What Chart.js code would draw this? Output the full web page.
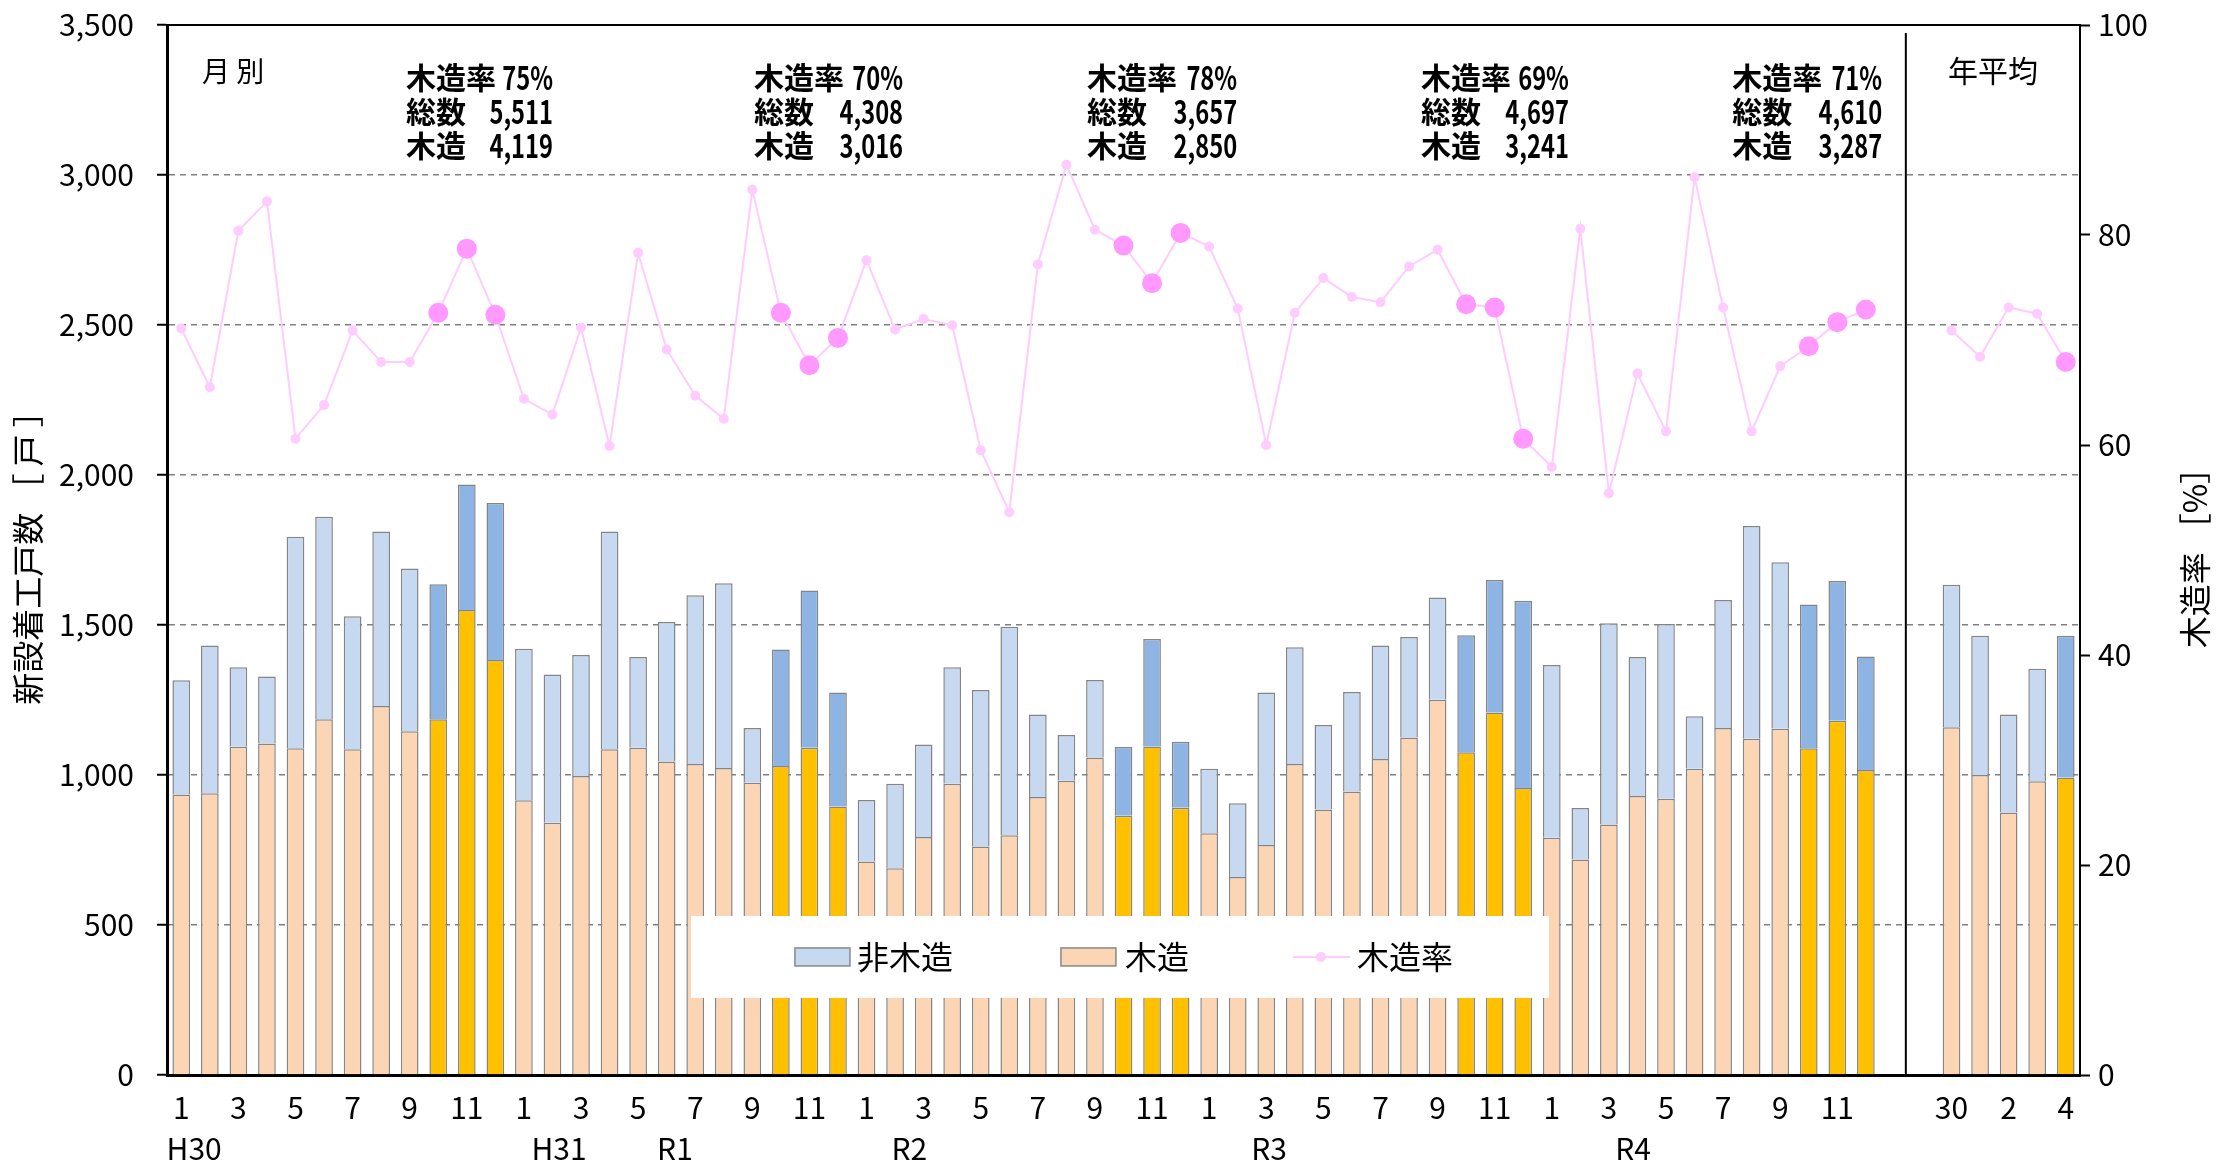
<!DOCTYPE html>
<html lang="ja">
<head>
<meta charset="utf-8">
<title>新設着工戸数</title>
<script src="https://cdn.jsdelivr.net/npm/chart.js@4.4.1/dist/chart.umd.min.js"></script>
<style>
  html, body { margin: 0; padding: 0; background: #fff; }
  #wrap { width: 2219px; height: 1163px; }
</style>
</head>
<body>
<div id="wrap"><canvas id="chartHousing" width="2219" height="1163"></canvas></div>
<script>
// 軸ラベル
const monthLabels = ['1', '2', '3', '4', '5', '6', '7', '8', '9', '10', '11', '12'];
const eraLabels = ['H30', 'H31', 'R1', 'R2', 'R3', 'R4'];
const annualLabels = ['30', '1', '2', '3', '4'];

// 月別 総数 (H30.1 ～ R4.12)
const totalMonthly = [
    1316, 1432, 1359, 1328, 1794, 1861, 1529, 1812, 1688, 1636, 1968, 1907,
    1421, 1335, 1400, 1812, 1393, 1510, 1599, 1639, 1157, 1418, 1615, 1275,
    917, 971, 1102, 1359, 1283, 1494, 1202, 1133, 1317, 1093, 1453, 1111,
    1021, 906, 1275, 1426, 1167, 1277, 1432, 1460, 1592, 1466, 1650, 1581,
    1367, 890, 1506, 1393, 1503, 1196, 1583, 1830, 1709, 1568, 1647, 1395
];
// 月別 木造
const woodMonthly = [
    935, 939, 1094, 1105, 1089, 1186, 1086, 1230, 1146, 1186, 1550, 1383,
    916, 841, 997, 1086, 1091, 1045, 1037, 1023, 974, 1030, 1091, 895,
    712, 689, 793, 971, 762, 799, 927, 981, 1058, 864, 1095, 891,
    806, 660, 767, 1037, 885, 945, 1053, 1125, 1251, 1076, 1208, 957,
    791, 718, 835, 930, 921, 1021, 1157, 1121, 1154, 1089, 1181, 1017
];
// 月別 木造率 [%]
const rateMonthly = [
    71.1, 65.5, 80.4, 83.2, 60.6, 63.8, 70.9, 67.9, 67.9, 72.6, 78.7, 72.4,
    64.4, 62.9, 71.2, 59.9, 78.3, 69.1, 64.7, 62.5, 84.3, 72.6, 67.6, 70.2,
    77.6, 71.0, 72.0, 71.4, 59.5, 53.6, 77.2, 86.7, 80.5, 79.0, 75.4, 80.2,
    78.9, 73.0, 60.0, 72.6, 75.9, 74.1, 73.6, 77.0, 78.6, 73.4, 73.1, 60.6,
    57.9, 80.6, 55.4, 66.8, 61.3, 85.5, 73.1, 61.3, 67.5, 69.4, 71.7, 72.9
];

// 年平均
const totalAnnual = [1634, 1464, 1202, 1354, 1464];
const woodAnnual = [1159, 1000, 875, 979, 992];
const rateAnnual = [70.9, 68.4, 73.1, 72.5, 67.9];

// 10～12月 集計
const quarterRate = ['75%', '70%', '78%', '69%', '71%'];
const quarterTotal = ['5,511', '4,308', '3,657', '4,697', '4,610'];
const quarterWood = ['4,119', '3,016', '2,850', '3,241', '3,287'];

const FONT = "'Noto Sans CJK JP', 'Noto Sans', sans-serif";
Chart.defaults.font.family = FONT;
Chart.defaults.color = '#000';

const gapSlots = [null, null];
let labels = [];
for (let yr = 0; yr < 5; yr++) labels = labels.concat(monthLabels);
labels = labels.concat(['', ''], annualLabels);

const woodData = woodMonthly.concat(gapSlots, woodAnnual);
const nonWoodData = totalMonthly.map((t, i) => t - woodMonthly[i])
    .concat(gapSlots, totalAnnual.map((t, i) => t - woodAnnual[i]));
const rateData = rateMonthly.concat(gapSlots, rateAnnual);

// 10～12月と直近年平均を強調
const isHighlight = i => (i < 60 ? (i % 12) >= 9 : i === 66);

const woodColors = labels.map((l, i) => isHighlight(i) ? '#FFC000' : '#FCD5B5');
const nonWoodColors = labels.map((l, i) => isHighlight(i) ? '#8EB4E3' : '#C6D9F1');
const pointColors = labels.map((l, i) => isHighlight(i) ? '#FF99FF' : '#FFCCFF');
const pointSizes = labels.map((l, i) => isHighlight(i) ? 10 : 5);

// 数字は横に詰めて描く
function narrowText(ctx, text, x, y, sx) {
    ctx.save();
    ctx.translate(x, y);
    ctx.scale(sx, 1);
    ctx.fillText(text, 0, 0);
    ctx.restore();
}

const overlayPlugin = {
    id: 'overlay',
    afterDatasetsDraw(chart) {
        const { ctx, chartArea, scales: { x, y } } = chart;
        ctx.save();

        // 上枠
        ctx.strokeStyle = '#000';
        ctx.lineWidth = 2;
        ctx.beginPath();
        ctx.moveTo(chartArea.left, chartArea.top);
        ctx.lineTo(chartArea.right, chartArea.top);
        ctx.stroke();

        // 月別 / 年平均の区切り
        const sepX = x.getPixelForValue(60.4);
        ctx.beginPath();
        ctx.moveTo(sepX, chartArea.top + 8);
        ctx.lineTo(sepX, chartArea.bottom);
        ctx.stroke();

        // 凡例
        const lx1 = x.getPixelForValue(17.85), lx2 = x.getPixelForValue(47.9);
        const ly1 = y.getPixelForValue(530), ly2 = y.getPixelForValue(257);
        const lcy = (ly1 + ly2) / 2;
        ctx.fillStyle = '#fff';
        ctx.fillRect(lx1, ly1, lx2 - lx1, ly2 - ly1);
        ctx.lineWidth = 1.5;
        ctx.strokeStyle = '#888';
        ctx.fillStyle = '#C6D9F1';
        ctx.fillRect(lx1 + 104, lcy - 9, 55, 18);
        ctx.strokeRect(lx1 + 104, lcy - 9, 55, 18);
        ctx.fillStyle = '#FCD5B5';
        ctx.fillRect(lx1 + 370, lcy - 9, 55, 18);
        ctx.strokeRect(lx1 + 370, lcy - 9, 55, 18);
        ctx.strokeStyle = '#FFCCFF';
        ctx.lineWidth = 2;
        ctx.beginPath();
        ctx.moveTo(lx1 + 602, lcy);
        ctx.lineTo(lx1 + 659, lcy);
        ctx.stroke();
        ctx.fillStyle = '#FFCCFF';
        ctx.beginPath();
        ctx.arc(lx1 + 630, lcy, 5, 0, Math.PI * 2);
        ctx.fill();
        ctx.fillStyle = '#000';
        ctx.font = '32px ' + FONT;
        ctx.textBaseline = 'middle';
        ctx.textAlign = 'left';
        ctx.fillText('非木造', lx1 + 166, lcy);
        ctx.fillText('木造', lx1 + 434, lcy);
        ctx.fillText('木造率', lx1 + 666, lcy);

        // 10～12月の注記
        const leftSlots = [7.87, 20.06, 31.72, 43.42, 54.32];
        const rightSlots = [13.02, 25.28, 36.98, 48.6, 59.57];
        for (let i = 0; i < 5; i++) {
            const xl = x.getPixelForValue(leftSlots[i]);
            const xr = x.getPixelForValue(rightSlots[i]);
            const rows = [['木造率', quarterRate[i]], ['総数', quarterTotal[i]], ['木造', quarterWood[i]]];
            rows.forEach((r, k) => {
                const ty = chartArea.top + 53 + k * 34;
                ctx.font = 'bold 30px ' + FONT;
                ctx.textAlign = 'left';
                ctx.fillText(r[0], xl, ty);
                ctx.font = 'bold 32px ' + FONT;
                ctx.textAlign = 'right';
                narrowText(ctx, r[1], xr, ty, 0.74);
            });
        }

        ctx.font = '28px ' + FONT;
        ctx.textAlign = 'left';
        ctx.fillText('月 別', chartArea.left + 35, chartArea.top + 46);
        ctx.font = '30px ' + FONT;
        ctx.textAlign = 'center';
        ctx.fillText('年平均', (sepX + chartArea.right) / 2, chartArea.top + 46);

        // 年号
        const eraSlots = [0.45, 13.23, 17.29, 25.5, 38.1, 50.85];
        eraLabels.forEach((e, i) => {
            ctx.fillText(e, x.getPixelForValue(eraSlots[i]), chartArea.bottom + 74);
        });

        // 軸タイトル
        const midY = (chartArea.top + chartArea.bottom) / 2;
        ctx.font = '32px ' + FONT;
        ctx.save();
        ctx.translate(28, midY);
        ctx.rotate(-Math.PI / 2);
        ctx.fillText('新設着工戸数 ［ 戸 ］', 0, 0);
        ctx.restore();
        ctx.save();
        ctx.translate(2195, midY);
        ctx.rotate(-Math.PI / 2);
        ctx.fillText('木造率 ［%］', 0, 0);
        ctx.restore();

        ctx.restore();
    }
};

const chartHousing = new Chart(document.getElementById('chartHousing'), {
    type: 'bar',
    data: {
        labels: labels,
        datasets: [
            {
                type: 'line', label: '木造率', data: rateData, yAxisID: 'y1', order: 0,
                borderColor: '#FFCCFF', borderWidth: 2, tension: 0, spanGaps: false,
                pointBackgroundColor: pointColors, pointBorderWidth: 0, pointRadius: pointSizes
            },
            {
                label: '木造', data: woodData, yAxisID: 'y', order: 1,
                backgroundColor: woodColors, borderColor: '#858585', borderWidth: 1.5,
                barPercentage: 0.62, categoryPercentage: 1.0
            },
            {
                label: '非木造', data: nonWoodData, yAxisID: 'y', order: 1,
                backgroundColor: nonWoodColors, borderColor: '#858585', borderWidth: 1.5,
                barPercentage: 0.62, categoryPercentage: 1.0
            }
        ]
    },
    options: {
        responsive: false,
        animation: false,
        layout: { padding: { top: 25, left: 0, right: 0, bottom: 0 } },
        plugins: { legend: { display: false }, tooltip: { enabled: false } },
        scales: {
            x: {
                stacked: true,
                offset: true,
                grid: { display: false },
                border: { display: true, color: '#000', width: 3 },
                ticks: {
                    autoSkip: false, maxRotation: 0, minRotation: 0, padding: 7,
                    font: { size: 30 },
                    callback: function (val, idx) {
                        const lab = this.getLabelForValue(val);
                        if (idx < 60) return (idx % 12) % 2 === 0 ? lab : '';
                        return (idx === 62 || idx === 64 || idx === 66) ? lab : '';
                    }
                },
                afterFit(s) { s.height = 88; }
            },
            y: {
                stacked: true,
                min: 0, max: 3500,
                ticks: {
                    stepSize: 500, padding: 23, font: { size: 30 },
                    callback: v => v.toLocaleString('en-US')
                },
                grid: {
                    color: c => (c.tick && (c.tick.value === 0 || c.tick.value === 3500)) ? 'rgba(0,0,0,0)' : '#808080',
                    lineWidth: 1.5, tickColor: '#000', tickLength: 10, tickWidth: 2
                },
                border: { display: true, color: '#000', width: 3, dash: [6, 5] },
                afterFit(s) { s.width = 167; s.paddingTop = 0; s.paddingBottom = 0; }
            },
            y1: {
                position: 'right',
                min: 0, max: 100,
                ticks: { stepSize: 20, padding: 8, font: { size: 30 } },
                grid: { drawOnChartArea: false, tickColor: '#000', tickLength: 10, tickWidth: 2 },
                border: { display: true, color: '#000', width: 2 },
                afterFit(s) { s.width = 139; s.paddingTop = 0; s.paddingBottom = 0; }
            }
        }
    },
    plugins: [overlayPlugin]
});
</script>
</body>
</html>
